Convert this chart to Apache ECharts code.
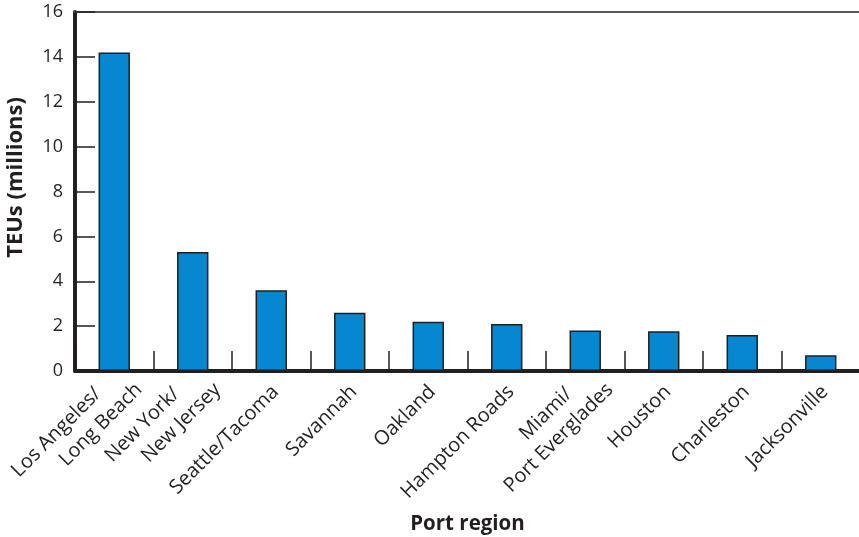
<!DOCTYPE html>
<html>
<head>
<meta charset="utf-8">
<script src="https://cdn.jsdelivr.net/npm/echarts@6/dist/echarts.min.js"></script>
<style>html,body{margin:0;padding:0;background:#fff}#c{width:859px;height:537px}</style>
</head>
<body>
<div id="c"></div>
<script>
const categories = ['Los Angeles/\nLong Beach', 'New York/\nNew Jersey', 'Seattle/Tacoma', 'Savannah', 'Oakland', 'Hampton Roads', 'Miami/\nPort Everglades', 'Houston', 'Charleston', 'Jacksonville'];
const teus = [14.2, 5.3, 3.6, 2.6, 2.2, 2.1, 1.8, 1.77, 1.6, 0.7];
const yTicks = [0, 2, 4, 6, 8, 10, 12, 14, 16];
const yName = 'TEUs (millions)';
const xName = 'Port region';

const ink = '#231f20';
const font = '"Open Sans", "Noto Sans", sans-serif';
const chart = echarts.init(document.getElementById('c'), null, {renderer: 'canvas'});
chart.setOption({
  animation: false,
  grid: {left: 75, right: -1, top: 12, bottom: 166, containLabel: false, outerBoundsMode: 'none'},
  xAxis: [{
    type: 'category',
    data: categories,
    name: xName,
    nameLocation: 'middle',
    nameGap: 143,
    nameTextStyle: {fontFamily: font, fontSize: 20.5, fontWeight: 'bold', color: ink},
    axisLine: {show: true, lineStyle: {color: ink, width: 4}},
    axisTick: {show: true, inside: true, length: 20, lineStyle: {color: ink, width: 1.5}},
    axisLabel: {
      interval: 0, rotate: 45, margin: 22, color: ink, fontFamily: font, fontSize: 20,
      formatter: function (v) {
        const p = v.split('\n');
        if (p.length === 2) return '{a|' + p[0] + '}\n{b|' + p[1] + '}';
        return '{c|' + v + '}';
      },
      rich: {
        a: {fontFamily: font, fontSize: 20, color: ink, lineHeight: 26, align: 'right', padding: [0, 10, 0, 0]},
        b: {fontFamily: font, fontSize: 20, color: ink, lineHeight: 26, align: 'right', padding: [0, -22, 0, 0]},
        c: {fontFamily: font, fontSize: 20, color: ink, lineHeight: 26, align: 'right', padding: [0, -6, 0, 0]}
      }
    },
    splitLine: {show: false}
  }, {
    type: 'category',
    position: 'top',
    data: categories,
    axisLine: {show: true, lineStyle: {color: '#5a5a5a', width: 2}},
    axisTick: {show: false},
    axisLabel: {show: false}
  }],
  yAxis: {
    type: 'value',
    min: yTicks[0], max: yTicks[yTicks.length - 1], interval: 2,
    name: yName,
    nameLocation: 'middle',
    nameGap: 48,
    nameTextStyle: {fontFamily: font, fontSize: 22, fontWeight: 'bold', color: ink, padding: [0, 0, 0, 28]},
    axisLine: {show: true, lineStyle: {color: ink, width: 4}},
    axisTick: {show: true, inside: true, length: 20, lineStyle: {color: ink, width: 1.5}},
    axisLabel: {margin: 12, color: ink, fontFamily: font, fontSize: 18},
    splitLine: {show: false}
  },
  series: [{
    type: 'bar',
    data: teus,
    barWidth: '40%',
    itemStyle: {color: '#0787cf', borderColor: ink, borderWidth: 1.5}
  }]
});
</script>
</body>
</html>
